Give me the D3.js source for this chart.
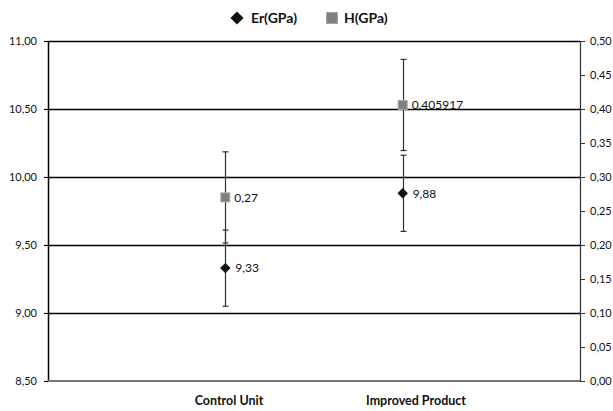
<!DOCTYPE html>
<html>
<head>
<meta charset="utf-8">
<script src="https://cdn.jsdelivr.net/npm/d3@7"></script>
<style>
body { margin: 0; background: #fff; }
svg { font-family: Lato, "Open Sans", sans-serif; }
</style>
</head>
<body>
<svg id="chart"></svg>
<script>
var screen = {width: 613, height: 411};
var margins = {top: 41, right: 33, bottom: 30, left: 48};

var categories = ["Control Unit", "Improved Product"];
var erValues = [9.33, 9.88];
var erErrors = [0.28, 0.28];
var hValues = [0.27, 0.405917];
var hErrors = [0.067, 0.067];
var hLabels = ["0,27", "0,405917"];
var erLabels = ["9,33", "9,88"];
var leftTicks = [8.5, 9, 9.5, 10, 10.5, 11];
var rightTicks = [0, 0.05, 0.1, 0.15, 0.2, 0.25, 0.3, 0.35, 0.4, 0.45, 0.5];

var width = screen.width - margins.left - margins.right;
var height = screen.height - margins.top - margins.bottom;

var svg = d3.select("svg")
    .attr("width", screen.width)
    .attr("height", screen.height)

var g = svg.append("g")
    .attr("id", "graph")
    .attr("transform", "translate(" + margins.left + "," + margins.top + ")")

var xScale = d3.scalePoint()
    .domain(categories)
    .range([0, width])
    .padding(1)

// labels sit slightly right of the points in the original
var labelScale = d3.scalePoint()
    .domain(categories)
    .range([-6, width + 23])
    .padding(1)

var yLeft = d3.scaleLinear()
    .domain([8.5, 11])
    .range([height, 0])

var yRight = d3.scaleLinear()
    .domain([0, 0.5])
    .range([height, 0])

var fmt = function(d) { return d3.format(".2f")(d).replace(".", ","); }

// gridlines
g.append("g")
    .selectAll("line")
    .data(leftTicks.slice(1))
    .enter()
    .append("line")
    .attr("x1", 0)
    .attr("x2", width)
    .attr("y1", function(d) { return Math.round(yLeft(d)) + 0.5; })
    .attr("y2", function(d) { return Math.round(yLeft(d)) + 0.5; })
    .attr("stroke", "#000")
    .attr("stroke-width", 1.5)

// left axis
var leftAxis = g.append("g")
    .attr("class", "axis")
    .call(d3.axisLeft(yLeft).tickValues(leftTicks).tickFormat(fmt).tickSize(4).tickPadding(7))
leftAxis.select(".domain").remove()
leftAxis.selectAll("line").attr("stroke", "#000").attr("stroke-width", 1.2)
leftAxis.selectAll("text")
    .style("font-family", "Lato, sans-serif")
    .style("font-size", "11px")
    .attr("fill", "#111")

g.append("line")
    .attr("x1", 0.5).attr("x2", 0.5)
    .attr("y1", 0).attr("y2", height)
    .attr("stroke", "#000")
    .attr("stroke-width", 1.5)

// right axis
var rightAxis = g.append("g")
    .attr("transform", "translate(" + width + ",0)")
    .call(d3.axisRight(yRight).tickValues(rightTicks).tickFormat(fmt).tickSize(5).tickPadding(5))
rightAxis.select(".domain").remove()
rightAxis.selectAll("line").attr("stroke", "#333").attr("stroke-width", 1)
rightAxis.selectAll("text")
    .style("font-family", "Lato, sans-serif")
    .style("font-size", "11px")
    .attr("fill", "#111")

g.append("line")
    .attr("x1", width + 0.5).attr("x2", width + 0.5)
    .attr("y1", 0).attr("y2", height)
    .attr("stroke", "#333")
    .attr("stroke-width", 1.2)

// bottom line
g.append("line")
    .attr("x1", 0).attr("x2", width)
    .attr("y1", height).attr("y2", height)
    .attr("stroke", "#777")
    .attr("stroke-width", 2)

// category labels
g.append("g")
    .selectAll("text")
    .data(categories)
    .enter()
    .append("text")
    .attr("x", function(d) { return labelScale(d); })
    .attr("y", height + 24)
    .attr("text-anchor", "middle")
    .style("font-size", "12.5px")
    .style("font-weight", "bold")
    .attr("fill", "#111")
    .text(function(d) { return d; })

// error bars
var drawErrors = function(values, errors, yScale, id)
{
    var eg = g.append("g").attr("id", id)
        .attr("stroke", "#333")
        .attr("stroke-width", 1.2)
    categories.forEach(function(c, i)
    {
        var x = Math.round(xScale(c)) + 0.5;
        var top = yScale(values[i] + errors[i]);
        var bot = yScale(values[i] - errors[i]);
        eg.append("line").attr("x1", x).attr("x2", x).attr("y1", top).attr("y2", bot)
        eg.append("line").attr("x1", x - 3).attr("x2", x + 3).attr("y1", top).attr("y2", top)
        eg.append("line").attr("x1", x - 3).attr("x2", x + 3).attr("y1", bot).attr("y2", bot)
    })
}
drawErrors(hValues, hErrors, yRight, "hErr")
drawErrors(erValues, erErrors, yLeft, "erErr")

// H markers
g.append("g")
    .selectAll("rect")
    .data(hValues)
    .enter()
    .append("rect")
    .attr("x", function(d, i) { return xScale(categories[i]) - 4.5; })
    .attr("y", function(d) { return yRight(d) - 4.5; })
    .attr("width", 9)
    .attr("height", 9)
    .attr("fill", "#808080")
    .attr("stroke", "#a6a6a6")
    .attr("stroke-width", 1)

g.append("g")
    .selectAll("text")
    .data(hValues)
    .enter()
    .append("text")
    .attr("x", function(d, i) { return xScale(categories[i]) + 9; })
    .attr("y", function(d) { return yRight(d); })
    .attr("dy", "0.35em")
    .style("font-size", "12px")
    .attr("fill", "#111")
    .text(function(d, i) { return hLabels[i]; })

// Er markers
var diamond = d3.symbol().type(d3.symbolDiamond2).size(70)
g.append("g")
    .selectAll("path")
    .data(erValues)
    .enter()
    .append("path")
    .attr("d", diamond)
    .attr("transform", function(d, i) { return "translate(" + xScale(categories[i]) + "," + yLeft(d) + ")"; })
    .attr("fill", "#111")

g.append("g")
    .selectAll("text")
    .data(erValues)
    .enter()
    .append("text")
    .attr("x", function(d, i) { return xScale(categories[i]) + 10; })
    .attr("y", function(d) { return yLeft(d); })
    .attr("dy", "0.35em")
    .style("font-size", "12px")
    .attr("fill", "#111")
    .text(function(d, i) { return erLabels[i]; })

// legend
var legend = svg.append("g").attr("id", "legend")
legend.append("path")
    .attr("d", d3.symbol().type(d3.symbolDiamond2).size(110))
    .attr("transform", "translate(237,18)")
    .attr("fill", "#111")
legend.append("text")
    .attr("x", 251)
    .attr("y", 23)
    .style("font-size", "14px")
    .style("font-weight", "bold")
    .attr("fill", "#111")
    .text("Er(GPa)")
legend.append("rect")
    .attr("x", 326.5).attr("y", 12.5)
    .attr("width", 11).attr("height", 11)
    .attr("fill", "#808080")
    .attr("stroke", "#a6a6a6")
legend.append("text")
    .attr("x", 344)
    .attr("y", 23)
    .style("font-size", "14px")
    .style("font-weight", "bold")
    .attr("fill", "#111")
    .text("H(GPa)")
</script>
</body>
</html>
